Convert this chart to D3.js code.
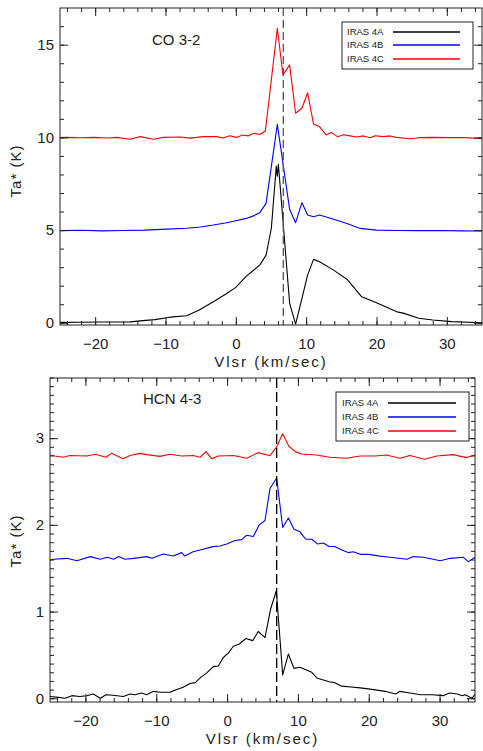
<!DOCTYPE html>
<html>
<head>
<meta charset="utf-8">
<script src="https://cdn.jsdelivr.net/npm/d3@7"></script>
<style>
  body { margin: 0; background: #fff; }
  svg { display: block; }
  text { font-family: "Liberation Sans", Arial, sans-serif; fill: #222; }
</style>
</head>
<body>
<div id="chart"></div>
<script>
// velocity axis, shared by both panels
const velTicks = [-20, -10, 0, 10, 20, 30];
const velMinor = d3.range(-24, 36, 2);
const coTicks = [0, 5, 10, 15];
const hcnTicks = [0, 1, 2, 3];
const sourceNames = ["IRAS 4A", "IRAS 4B", "IRAS 4C"];
const sourceColors = ["#000000", "#0000ff", "#ff0000"];

// CO 3-2 spectra, [vlsr, Ta*]
const co4A = [[-25,0.02],[-22,0.03],[-20,0.04],[-17,0.04],[-15,0.05],[-13.6,0.1],[-11.5,0.17],[-9.8,0.27],[-9,0.32],[-7,0.38],[-5.2,0.69],[-3.2,1.13],[-1.3,1.58],[0,1.91],[1.5,2.52],[3.4,3.11],[4.3,3.65],[5.05,5.1],[5.75,8.45],[5.9,7.9],[6.05,8.55],[7.65,1.05],[8.5,-0.07],[9.4,1.32],[10.2,2.57],[11.05,3.42],[11.9,3.29],[13.9,2.84],[15.8,2.35],[17.9,1.4],[20,1.08],[22.9,0.59],[23.8,0.52],[26,0.24],[28,0.15],[30.7,0.06],[35,0.0]];
const co4B = [[-25,4.97],[-22,4.99],[-19,4.96],[-16,4.98],[-13,5.0],[-9.8,5.05],[-7,5.1],[-5,5.17],[-3.2,5.27],[-1.5,5.38],[0,5.5],[1.5,5.63],[2.6,5.78],[3.4,5.94],[4.3,6.44],[5.9,10.7],[7.65,6.12],[8.5,5.4],[9.4,6.48],[10.2,5.81],[11.05,5.72],[11.9,5.81],[13.9,5.58],[15.8,5.35],[17.7,5.09],[20,5.0],[23,4.98],[26,4.97],[29,4.98],[32,4.96],[35,4.95]];
const co4C = [[-25,9.99],[-24,10.0],[-22.1,9.98],[-20.2,10.0],[-18.3,9.97],[-16.9,10.0],[-15.05,9.9],[-13.6,10.04],[-11.7,9.9],[-10.3,10.0],[-7.9,10.02],[-6.5,9.96],[-4.6,10.04],[-2.7,10.04],[-1.8,9.97],[-0.85,10.09],[0.1,10.0],[0.95,10.13],[1.75,10.08],[2.55,10.22],[3.4,10.16],[4.2,10.34],[5.9,15.89],[6.7,13.37],[7.65,13.91],[8.5,11.3],[9.4,11.57],[10.2,12.41],[11.05,10.72],[11.9,10.58],[12.85,10.13],[13.55,10.27],[14.45,10.04],[15.3,10.14],[16.25,10.08],[17.2,10.02],[18.15,10.08],[19.1,9.985],[19.8,10.09],[21.0,10.04],[21.9,10.08],[22.85,10.0],[24.75,9.93],[26.1,9.985],[28.0,10.0],[30.4,9.985],[32.7,9.985],[35,9.93]];

// HCN 4-3 spectra, [vlsr, Ta*]
const hcn4A = [[-25,0.02],[-23.8,0.01],[-22.9,0.0],[-21.9,0.03],[-20.8,0.02],[-19.8,0.03],[-18.9,0.05],[-17.9,0.0],[-17.1,0.04],[-16.1,0.035],[-14.65,0.02],[-13.7,0.05],[-13.0,0.04],[-12.05,0.06],[-11.35,0.04],[-10.4,0.08],[-9.47,0.07],[-8.06,0.07],[-7.1,0.1],[-6.2,0.127],[-5.23,0.17],[-4.5,0.18],[-3.6,0.25],[-2.9,0.29],[-1.95,0.365],[-1.24,0.373],[-0.53,0.47],[0.17,0.52],[0.88,0.6],[1.73,0.626],[2.67,0.69],[3.62,0.665],[4.4,0.77],[5.35,0.7],[6.15,1.03],[6.95,1.24],[7.85,0.27],[8.65,0.51],[9.45,0.345],[10.3,0.357],[11.1,0.33],[11.95,0.3],[12.75,0.23],[13.6,0.21],[14.4,0.19],[15.2,0.18],[16.2,0.14],[17.5,0.13],[18.8,0.12],[20.7,0.1],[22.3,0.08],[23.8,0.05],[24.4,0.08],[25.8,0.06],[27.3,0.04],[29,0.04],[30.5,0.03],[31.4,0.06],[32.5,0.05],[33.2,0.03],[33.6,0.04],[34.6,0.0],[35,0.05]];
const hcn4B = [[-25,1.595],[-24.5,1.603],[-22.6,1.614],[-21.2,1.587],[-19.3,1.634],[-17.9,1.603],[-16.9,1.626],[-16.0,1.603],[-15.3,1.634],[-14.4,1.603],[-13.2,1.614],[-11.35,1.634],[-10.6,1.614],[-9.0,1.664],[-7.6,1.641],[-6.4,1.68],[-6.0,1.641],[-4.8,1.69],[-3.8,1.71],[-2.0,1.749],[-1.0,1.757],[-0.05,1.78],[1.12,1.82],[2.06,1.83],[2.77,1.88],[3.7,1.865],[4.55,2.0],[5.35,2.05],[6.06,2.42],[7.0,2.54],[7.85,1.97],[8.65,2.08],[9.45,1.95],[10.3,1.92],[11.1,1.834],[11.95,1.834],[12.75,1.78],[13.6,1.79],[14.4,1.75],[15.2,1.75],[16.2,1.71],[17.1,1.68],[17.8,1.69],[18.8,1.66],[20,1.66],[21.6,1.64],[23.0,1.626],[25.4,1.603],[26.3,1.634],[27.7,1.626],[29.1,1.603],[30.1,1.587],[31.5,1.614],[33.35,1.626],[34.06,1.576],[35,1.626]];
const hcn4C = [[-25,2.806],[-24.3,2.795],[-23.1,2.78],[-22.2,2.8],[-19.8,2.795],[-18.6,2.814],[-17.1,2.78],[-16.3,2.825],[-14.7,2.764],[-13.7,2.8],[-12.3,2.825],[-11.35,2.81],[-9.5,2.79],[-8.06,2.814],[-6.4,2.795],[-4.77,2.8],[-3.8,2.78],[-2.98,2.845],[-2.17,2.764],[-1.24,2.795],[0.88,2.8],[2.77,2.768],[4.4,2.833],[6.06,2.798],[7.0,2.9],[7.85,3.05],[8.7,2.91],[9.6,2.845],[10.5,2.818],[12.65,2.806],[14.5,2.78],[16.9,2.768],[18.8,2.795],[20.9,2.795],[22.5,2.806],[24.4,2.768],[25.8,2.8],[27.9,2.757],[29.6,2.795],[31.9,2.81],[33.8,2.776],[35,2.806]];

const width = 483;
const height = 751;

const panels = [
  {
    title: "CO 3-2", series: [co4A, co4B, co4C],
    left: 60, right: 482, top: 8, bottom: 325,
    yDomain: [-0.12, 16.98], yTicks: coTicks, yMinor: d3.range(0, 17, 1),
    vDash: 6.75, dashColor: "#555", dash: "8,4",
    titleX: 152, titleY: 45,
    legend: { x: 342, y: 22, w: 131, h: 47, textX: 347, lineX0: 393, lineX1: 460, rows: [32, 45, 59] },
    ylabelX: 21, ylabelY: 171
  },
  {
    title: "HCN 4-3", series: [hcn4A, hcn4B, hcn4C],
    left: 50, right: 475, top: 378, bottom: 702,
    yDomain: [-0.043, 3.694], yTicks: hcnTicks, yMinor: d3.range(0, 3.75, 0.1),
    vDash: 7.0, dashColor: "#000", dash: "10,4",
    titleX: 143, titleY: 404,
    legend: { x: 336, y: 392, w: 133, h: 49, textX: 342, lineX0: 388, lineX1: 456, rows: [403, 417, 431] },
    ylabelX: 21, ylabelY: 541
  }
];

const svg = d3.select("#chart").append("svg")
  .attr("width", width)
  .attr("height", height)
  .attr("viewBox", [0, 0, width, height]);

panels.forEach(function (p, i) {
  const x = d3.scaleLinear().domain([-25, 35]).range([p.left, p.right]);
  const y = d3.scaleLinear().domain(p.yDomain).range([p.bottom, p.top]);
  const g = svg.append("g");

  g.append("clipPath").attr("id", "clip" + i)
    .append("rect")
    .attr("x", p.left).attr("y", p.top)
    .attr("width", p.right - p.left).attr("height", p.bottom - p.top);

  // spectra
  const line = d3.line().x(d => x(d[0])).y(d => y(d[1]));
  g.append("g").attr("clip-path", "url(#clip" + i + ")")
    .selectAll("path")
    .data(p.series)
    .join("path")
    .attr("d", line)
    .attr("fill", "none")
    .attr("stroke", (d, k) => sourceColors[k])
    .attr("stroke-width", 1.1)
    .attr("stroke-linejoin", "round");

  // systemic velocity
  g.append("line")
    .attr("x1", x(p.vDash)).attr("x2", x(p.vDash))
    .attr("y1", p.top).attr("y2", p.bottom)
    .attr("stroke", p.dashColor)
    .attr("stroke-width", 1.3)
    .attr("stroke-dasharray", p.dash);

  // axes, ticks point inward on all four sides
  function styleAxis(sel) {
    sel.select(".domain").remove();
    sel.selectAll(".tick line").attr("stroke", "#222");
    sel.selectAll("text").attr("font-size", 15).attr("fill", "#222")
      .attr("font-family", '"Liberation Sans", Arial, sans-serif');
  }

  g.append("g").attr("transform", `translate(0,${p.bottom})`)
    .call(d3.axisBottom(x).tickValues(velTicks).tickSize(-8).tickPadding(13)
      .tickFormat(d => d < 0 ? "\u2212" + Math.abs(d) : d))
    .call(styleAxis);
  g.append("g").attr("transform", `translate(0,${p.bottom})`)
    .call(d3.axisBottom(x).tickValues(velMinor).tickSize(-4).tickFormat(""))
    .call(styleAxis);
  g.append("g").attr("transform", `translate(0,${p.top})`)
    .call(d3.axisTop(x).tickValues(velTicks).tickSize(-8).tickFormat(""))
    .call(styleAxis);
  g.append("g").attr("transform", `translate(0,${p.top})`)
    .call(d3.axisTop(x).tickValues(velMinor).tickSize(-4).tickFormat(""))
    .call(styleAxis);

  g.append("g").attr("transform", `translate(${p.left},0)`)
    .call(d3.axisLeft(y).tickValues(p.yTicks).tickSize(-8).tickPadding(6).tickFormat(d3.format("d")))
    .call(styleAxis);
  g.append("g").attr("transform", `translate(${p.left},0)`)
    .call(d3.axisLeft(y).tickValues(p.yMinor).tickSize(-4).tickFormat(""))
    .call(styleAxis);
  g.append("g").attr("transform", `translate(${p.right},0)`)
    .call(d3.axisRight(y).tickValues(p.yTicks).tickSize(-8).tickFormat(""))
    .call(styleAxis);
  g.append("g").attr("transform", `translate(${p.right},0)`)
    .call(d3.axisRight(y).tickValues(p.yMinor).tickSize(-4).tickFormat(""))
    .call(styleAxis);

  // frame
  g.append("rect")
    .attr("x", p.left).attr("y", p.top)
    .attr("width", p.right - p.left).attr("height", p.bottom - p.top)
    .attr("fill", "none").attr("stroke", "#222").attr("stroke-width", 1);

  // axis titles
  g.append("text")
    .attr("x", (p.left + p.right) / 2)
    .attr("y", p.bottom + 42)
    .attr("text-anchor", "middle")
    .attr("font-size", 15)
    .attr("letter-spacing", "2px")
    .text("Vlsr (km/sec)");

  g.append("text")
    .attr("transform", `translate(${p.ylabelX},${p.ylabelY}) rotate(-90)`)
    .attr("text-anchor", "middle")
    .attr("font-size", 15)
    .attr("letter-spacing", "1px")
    .text("Ta* (K)");

  g.append("text")
    .attr("x", p.titleX).attr("y", p.titleY)
    .attr("font-size", 15)
    .text(p.title);

  // legend
  const L = p.legend;
  g.append("rect")
    .attr("x", L.x).attr("y", L.y).attr("width", L.w).attr("height", L.h)
    .attr("fill", "#fff").attr("stroke", "#222").attr("stroke-width", 1);
  sourceNames.forEach(function (name, k) {
    g.append("text")
      .attr("x", L.textX).attr("y", L.rows[k])
      .attr("dy", "0.35em")
      .attr("font-size", 9.5)
      .text(name);
    g.append("line")
      .attr("x1", L.lineX0).attr("x2", L.lineX1)
      .attr("y1", L.rows[k]).attr("y2", L.rows[k])
      .style("stroke", sourceColors[k])
      .style("stroke-width", 1.5);
  });
});
</script>
</body>
</html>
